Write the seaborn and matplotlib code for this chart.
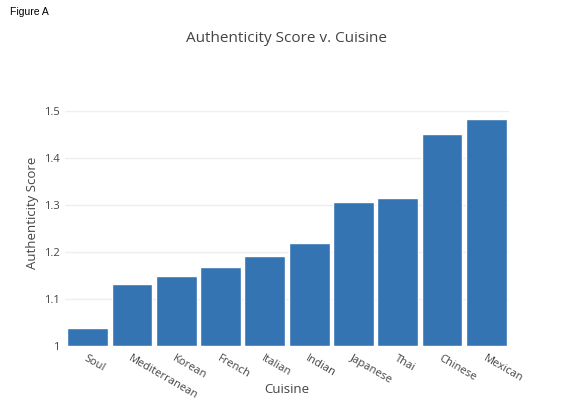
import seaborn as sns
import matplotlib.pyplot as plt
import pandas as pd

cuisines = ["Soul", "Mediterranean", "Korean", "French", "Italian",
            "Indian", "Japanese", "Thai", "Chinese", "Mexican"]
scores = [1.038, 1.132, 1.149, 1.167, 1.192, 1.218, 1.307, 1.314, 1.450, 1.482]
yticks = [1, 1.1, 1.2, 1.3, 1.4, 1.5]
ytick_labels = ["1", "1.1", "1.2", "1.3", "1.4", "1.5"]

df = pd.DataFrame({"Cuisine": cuisines, "Authenticity Score": scores})

sns.set_style("white")
plt.rcParams['font.family'] = ['Open Sans', 'DejaVu Sans']

fig = plt.figure(figsize=(5.74, 4.11), dpi=100)
ax = fig.add_axes([0.114, 0.159, 0.772, 0.571])

sns.barplot(data=df, x="Cuisine", y="Authenticity Score", color="#3474b2",
            saturation=1, width=0.92, ax=ax, zorder=2)
# bars start from 1, not 0
for bar in ax.patches:
    h = bar.get_height()
    bar.set_y(1)
    bar.set_height(h - 1)

ax.set_ylim(1, 1.5)
ax.set_xlim(-0.5, len(cuisines) - 0.5)
ax.set_yticks(yticks)
ax.set_yticklabels(ytick_labels)
ax.yaxis.grid(True, color="#eeeeee", linewidth=1, zorder=0)
for s in ax.spines.values():
    s.set_visible(False)
ax.tick_params(axis="both", length=0, colors="#444444", labelsize=8)
ax.tick_params(axis="y", pad=4)
ax.tick_params(axis="x", pad=5)
plt.setp(ax.get_xticklabels(), rotation=-30, ha="left", rotation_mode="anchor")

ax.set_xlabel("Cuisine", fontsize=9.5, color="#444444")
ax.set_ylabel("Authenticity Score", fontsize=9.5, color="#444444")
ax.xaxis.set_label_coords(0.5, -0.16)
ax.yaxis.set_label_coords(-0.06, 0.565)

fig.text(0.5, 0.907, "Authenticity Score v. Cuisine", ha="center", va="center",
         fontsize=11, color="#444444")
fig.text(0.017, 0.972, "Figure A", ha="left", va="center", fontsize=7.5,
         color="black", family=["Liberation Sans", "DejaVu Sans"])

fig.savefig("out.png", dpi=100)
